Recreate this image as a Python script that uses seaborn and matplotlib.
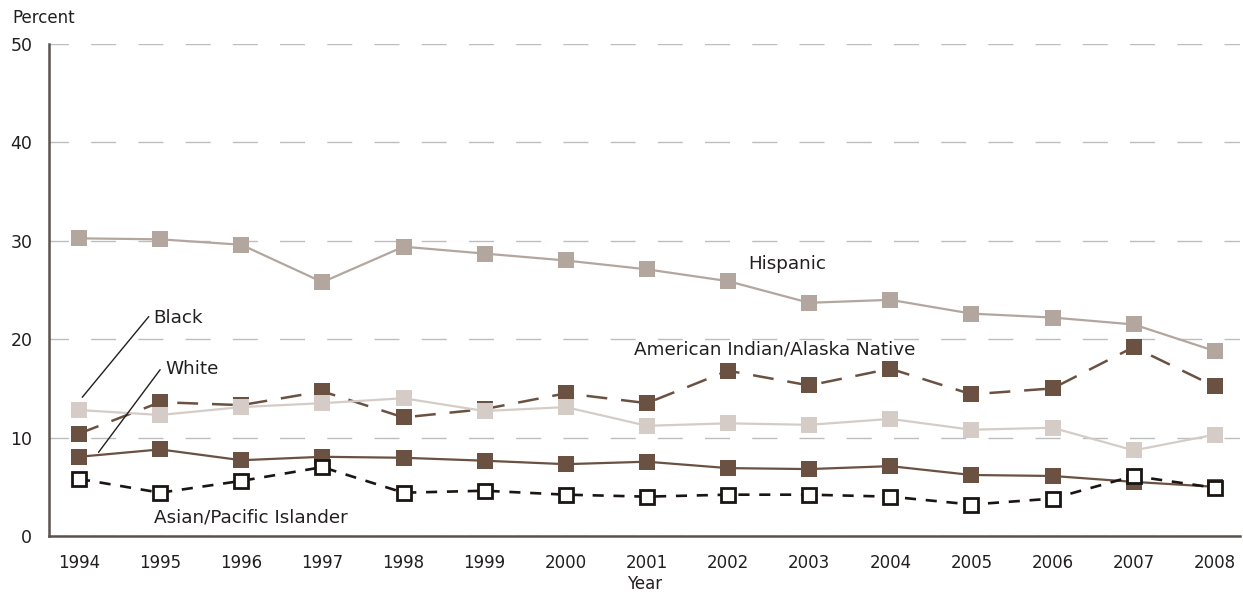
import matplotlib
matplotlib.use("Agg")
import matplotlib.pyplot as plt
import seaborn as sns
import pandas as pd

# valores (porcentaje por año)
years = list(range(1994, 2009))
hispanic = [30.25, 30.15, 29.6, 25.8, 29.4, 28.7, 28.0, 27.1, 25.9, 23.7, 24.0, 22.6, 22.2, 21.5, 18.8]
black = [12.8, 12.3, 13.1, 13.5, 14.0, 12.7, 13.1, 11.2, 11.45, 11.3, 11.9, 10.8, 11.0, 8.7, 10.3]
native = [10.4, 13.6, 13.3, 14.7, 12.05, 12.9, 14.5, 13.5, 16.8, 15.3, 17.0, 14.4, 15.0, 19.2, 15.2]
white = [8.05, 8.8, 7.7, 8.05, 7.95, 7.65, 7.3, 7.55, 6.9, 6.8, 7.1, 6.2, 6.1, 5.5, 5.0]
asian = [5.8, 4.4, 5.6, 7.0, 4.4, 4.6, 4.2, 4.0, 4.2, 4.2, 4.0, 3.2, 3.8, 6.1, 4.9]

df = pd.DataFrame({"Year": years, "Hispanic": hispanic, "Black": black,
                   "Native": native, "White": white, "Asian": asian})

sns.set_style("white")
plt.rcParams["font.family"] = ["DejaVu Sans"]
plt.rcParams["lines.scale_dashes"] = False

texto = "#231f20"
marron = "#6b5142"
gris_h = "#b3a69e"
gris_b = "#d5ccc8"

fig = plt.figure(figsize=(12.43, 5.94), dpi=100)
ax = fig.add_axes([49 / 1243, 58 / 594, 1191 / 1243, 492 / 594])

sns.lineplot(data=df, x="Year", y="White", ax=ax, color=marron, lw=1.6, marker="s",
             markersize=11.5, markeredgewidth=0, linestyle="-", zorder=3)
sns.lineplot(data=df, x="Year", y="Asian", ax=ax, color="#1a1512", lw=1.9, marker="s",
             markersize=10, markerfacecolor="white", markeredgecolor="#1a1512",
             markeredgewidth=2, linestyle=(0, (8, 7)), zorder=4)
sns.lineplot(data=df, x="Year", y="Native", ax=ax, color=marron, lw=1.8, marker="s",
             markersize=11.5, markeredgewidth=0, linestyle=(0, (15, 10)), zorder=5)
sns.lineplot(data=df, x="Year", y="Black", ax=ax, color=gris_b, lw=1.6, marker="s",
             markersize=11.5, markeredgewidth=0, linestyle="-", zorder=6)
sns.lineplot(data=df, x="Year", y="Hispanic", ax=ax, color=gris_h, lw=1.6, marker="s",
             markersize=11.5, markeredgewidth=0, linestyle="-", zorder=7)

ax.set_xlim(1993.63, 2008.31)
ax.set_ylim(0, 50)
ax.set_xticks(years)
ax.set_yticks(range(0, 51, 10))
ax.yaxis.grid(True, color="#bdbdbd", linewidth=1.0, linestyle=(4, (18, 16)))
ax.set_axisbelow(True)

for s in ["top", "right"]:
    ax.spines[s].set_visible(False)
for s in ["left", "bottom"]:
    ax.spines[s].set_color("#5a524d")
    ax.spines[s].set_linewidth(1.8)

ax.tick_params(axis="x", direction="out", length=7, width=1.2, color="#5a524d",
               labelsize=12, labelcolor=texto, pad=6)
ax.tick_params(axis="y", length=0, labelsize=12.5, labelcolor=texto, pad=12)
ax.set_ylabel("")
ax.set_xlabel("Year", fontsize=12, color=texto, labelpad=2)

fig.text(12 / 1243, 1 - 18 / 594, "Percent", fontsize=12, color=texto, va="center")

# etiquetas de las series
fs = 13.2
ax.text(2002.25, 27.6, "Hispanic", fontsize=fs, color=texto, va="center")
ax.text(2000.84, 19.0, "American Indian/Alaska Native", fontsize=fs, color=texto, va="center")
ax.text(1994.92, 22.2, "Black", fontsize=fs, color=texto, va="center")
ax.text(1995.06, 17.0, "White", fontsize=fs, color=texto, va="center")
ax.text(1994.92, 1.9, "Asian/Pacific Islander", fontsize=fs, color=texto, va="center")
ax.plot([1994.04, 1994.86], [14.1, 22.3], color=texto, lw=1, zorder=8)
ax.plot([1994.24, 1995.0], [8.5, 16.9], color=texto, lw=1, zorder=8)

fig.savefig("out.png", dpi=100)
